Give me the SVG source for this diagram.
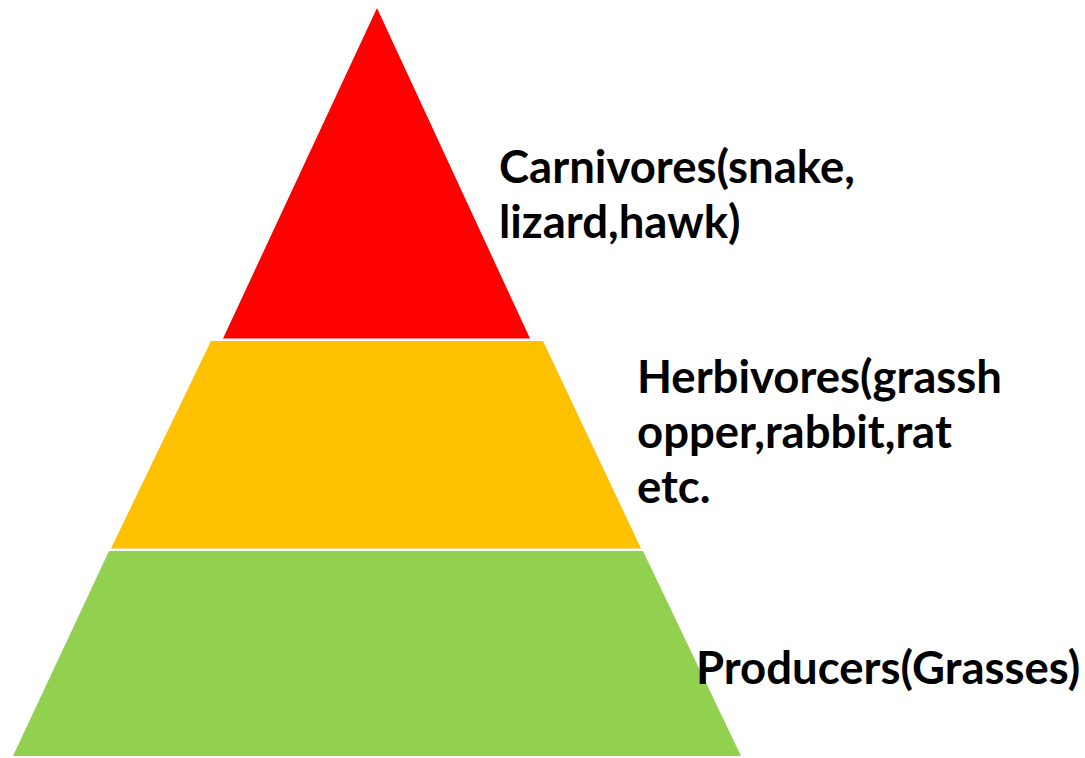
<svg xmlns="http://www.w3.org/2000/svg" width="1085" height="758" viewBox="0 0 1085 758">
<style>
.lbl{font-family:"Lato","Liberation Sans",sans-serif;font-weight:700;font-size:45.5px;fill:#000}
</style>
<rect width="1085" height="758" fill="#fff"/>
<g id="carnivores">
<polygon points="377,8 530,338.5 223,338.5" fill="#ff0000"/>
<text class="lbl" x="499" y="183">Carnivores(snake,</text>
<text class="lbl" x="499" y="238">lizard,hawk)</text>
</g>
<g id="herbivores">
<polygon points="211,341 543,341 641,548.5 111,548.5" fill="#ffc000"/>
<text class="lbl" x="637" y="393">Herbivores(grassh</text>
<text class="lbl" x="637" y="448">opper,rabbit,rat</text>
<text class="lbl" x="637" y="503">etc.</text>
</g>
<g id="producers">
<polygon points="109,551 643,551 741,756 13,756" fill="#92d050"/>
<text class="lbl" x="696" y="684">Producers(Grasses)</text>
</g>
<g id="connectors"/>
</svg>
